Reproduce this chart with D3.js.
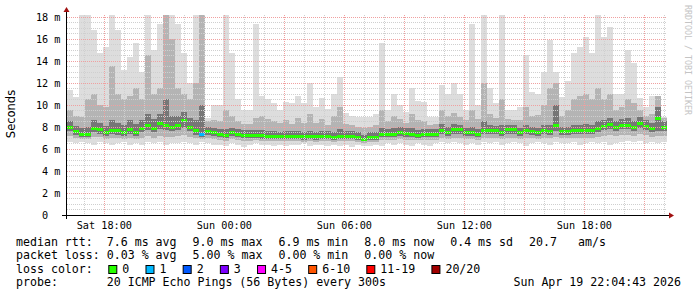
<!DOCTYPE html>
<html>
<head>
<meta charset="utf-8">
<script src="https://cdn.jsdelivr.net/npm/d3@7"></script>
<style>
    html, body { margin: 0; padding: 0; background: #ffffff; }
    svg { display: block; }
    text { font-family: "DejaVu Sans Mono", monospace; white-space: pre; }
</style>
</head>
<body>
<div id="chart"></div>
<script>
// Ping values per 18 minute bin, in milliseconds (100 bins = 30 hours)
const medianRtt = [
    8.0, 7.6, 7.4, 7.4, 7.9, 7.8, 7.5, 7.7, 7.7, 7.5,
    7.8, 7.5, 7.9, 8.2, 7.9, 8.4, 8.2, 8.0, 8.2, 8.6,
    8.0, 7.7, 7.4, 7.6, 7.5, 7.4, 7.3, 7.5, 7.4, 7.3,
    7.3, 7.25, 7.25, 7.2, 7.2, 7.15, 7.2, 7.2, 7.15, 7.15,
    7.15, 7.15, 7.15, 7.2, 7.1, 7.2, 7.2, 7.2, 7.1, 6.9,
    7.1, 7.1, 7.4, 7.4, 7.4, 7.55, 7.45, 7.4, 7.3, 7.4,
    7.4, 7.4, 7.75, 7.5, 7.8, 7.8, 7.5, 7.5, 7.4, 7.7,
    7.7, 7.7, 7.5, 7.8, 7.8, 7.5, 7.7, 7.6, 7.5, 7.7,
    7.6, 8.2, 7.6, 7.6, 7.7, 7.7, 7.7, 7.7, 7.9, 8.1,
    8.3, 8.0, 8.2, 8.2, 8.0, 8.4, 8.1, 7.9, 8.8, 8.0
];
const minRtt = [
    6.6, 6.5, 6.6, 6.5, 6.4, 6.6, 6.5, 6.4, 6.5, 6.6,
    6.4, 6.5, 6.4, 6.6, 6.5, 6.6, 6.4, 6.5, 6.5, 6.6,
    6.5, 6.4, 6.6, 6.5, 6.4, 6.4, 6.3, 6.5, 6.4, 6.2,
    6.4, 6.5, 6.4, 6.4, 6.3, 6.4, 6.3, 6.4, 6.4, 6.5,
    6.3, 6.4, 6.4, 6.3, 6.4, 6.3, 6.4, 6.2, 6.4, 6.3,
    6.3, 6.4, 6.3, 6.5, 6.4, 6.5, 6.4, 6.3, 6.5, 6.4,
    6.3, 6.5, 6.6, 6.5, 6.6, 6.5, 6.4, 6.5, 6.4, 6.6,
    6.5, 6.6, 6.4, 6.5, 6.6, 6.5, 6.3, 6.5, 6.6, 6.5,
    6.4, 6.6, 6.5, 6.5, 6.6, 6.4, 6.5, 6.6, 6.5, 6.6,
    6.4, 6.5, 6.6, 6.7, 6.6, 6.7, 6.5, 6.6, 6.5, 6.6
];
const p10Rtt = [
    7.2, 7.0, 6.9, 6.9, 7.1, 7.1, 6.9, 7.0, 7.0, 6.9,
    7.0, 6.9, 7.0, 7.2, 7.0, 7.2, 7.1, 7.1, 7.2, 7.3,
    7.1, 7.0, 6.9, 7.0, 6.9, 6.8, 6.7, 6.9, 6.8, 6.7,
    6.7, 6.8, 6.7, 6.7, 6.7, 6.7, 6.7, 6.7, 6.7, 6.6,
    6.7, 6.6, 6.7, 6.7, 6.6, 6.7, 6.7, 6.7, 6.6, 6.5,
    6.6, 6.6, 6.8, 6.8, 6.8, 6.9, 6.8, 6.8, 6.8, 6.8,
    6.8, 6.8, 7.0, 6.9, 7.0, 7.0, 6.9, 6.9, 6.8, 7.0,
    7.0, 7.0, 6.9, 7.0, 7.0, 6.9, 7.0, 7.0, 6.9, 7.0,
    7.0, 7.1, 7.0, 7.0, 7.0, 7.0, 7.0, 7.0, 7.1, 7.2,
    7.3, 7.2, 7.3, 7.3, 7.2, 7.4, 7.3, 7.1, 7.2, 7.2
];
const p25Rtt = [
    7.6, 7.3, 7.1, 7.1, 7.5, 7.4, 7.2, 7.4, 7.3, 7.2,
    7.4, 7.2, 7.5, 7.7, 7.5, 7.8, 7.7, 7.6, 7.7, 7.9,
    7.6, 7.3, 7.1, 7.3, 7.2, 7.1, 7.0, 7.2, 7.1, 7.0,
    7.0, 7.0, 6.95, 6.9, 6.9, 6.9, 6.9, 6.9, 6.9, 6.85,
    6.9, 6.85, 6.9, 6.9, 6.8, 6.9, 6.9, 6.9, 6.8, 6.7,
    6.8, 6.8, 7.1, 7.1, 7.1, 7.2, 7.1, 7.1, 7.0, 7.1,
    7.1, 7.1, 7.4, 7.2, 7.4, 7.4, 7.2, 7.2, 7.1, 7.4,
    7.4, 7.4, 7.2, 7.4, 7.4, 7.2, 7.4, 7.3, 7.2, 7.4,
    7.3, 7.6, 7.3, 7.3, 7.4, 7.4, 7.4, 7.4, 7.5, 7.7,
    7.8, 7.6, 7.8, 7.8, 7.6, 7.9, 7.7, 7.5, 7.6, 7.6
];
const p75Rtt = [
    8.5, 8.1, 7.9, 8.0, 8.6, 8.4, 8.1, 8.6, 8.4, 8.2,
    8.6, 8.3, 8.6, 9.2, 8.7, 9.2, 10.5, 9.0, 9.0, 9.4,
    8.8, 8.6, 10.0, 8.0, 7.9, 7.8, 7.8, 7.9, 7.8, 7.7,
    7.7, 7.7, 7.7, 7.6, 7.6, 7.5, 7.6, 7.6, 7.6, 7.5,
    7.6, 7.5, 7.6, 7.6, 7.5, 7.8, 7.6, 7.6, 7.5, 7.3,
    7.5, 7.5, 7.9, 7.8, 7.9, 8.0, 7.9, 7.9, 7.7, 7.8,
    7.8, 7.8, 8.3, 8.0, 8.3, 8.2, 7.9, 8.0, 7.8, 8.5,
    8.2, 8.1, 8.2, 8.2, 8.2, 7.9, 8.2, 8.0, 7.9, 8.2,
    8.2, 10.0, 8.0, 8.0, 8.2, 8.2, 8.3, 8.2, 8.5, 8.6,
    8.8, 8.5, 8.7, 8.8, 8.5, 8.9, 8.6, 8.4, 9.8, 8.5
];
const p90Rtt = [
    9.5, 9.0, 8.9, 10.5, 11.0, 10.0, 9.8, 13.5, 11.0, 10.5,
    10.8, 11.5, 10.5, 14.5, 11.0, 11.5, 18.2, 16.0, 11.5, 11.0,
    10.5, 12.0, 18.2, 8.5, 8.6, 8.5, 9.5, 9.0, 8.5, 8.3,
    8.3, 8.8, 9.0, 8.7, 8.5, 8.4, 8.6, 8.3, 8.8, 8.4,
    9.2, 8.4, 8.7, 8.2, 9.0, 9.8, 8.3, 8.2, 8.0, 7.9,
    8.0, 8.2, 9.5, 8.5, 9.0, 8.7, 8.4, 9.2, 8.6, 8.5,
    8.2, 8.3, 9.5, 9.0, 9.3, 8.9, 8.6, 9.5, 8.7, 12.0,
    9.2, 8.8, 10.5, 8.7, 8.6, 8.6, 9.8, 9.0, 9.1, 10.0,
    11.5, 12.0, 9.0, 9.5, 10.5, 10.8, 11.0, 10.5, 11.5, 10.5,
    11.0, 9.5, 9.8, 10.5, 10.2, 9.5, 9.0, 9.2, 10.8, 8.8
];
const maxRtt = [
    11.4, 10.7, 18.2, 18.2, 16.8, 14.7, 15.3, 18.2, 16.8, 13.2,
    14.4, 15.6, 13.0, 18.2, 15.0, 17.4, 18.2, 18.2, 17.4, 14.7,
    12.0, 18.2, 18.2, 8.8, 10.0, 10.0, 18.2, 14.7, 10.5, 9.5,
    9.5, 17.4, 10.8, 10.5, 10.2, 9.5, 10.3, 10.2, 10.8, 10.2,
    12.0, 9.8, 10.6, 9.6, 11.0, 12.5, 9.3, 9.0, 8.9, 8.9,
    8.9, 9.2, 15.6, 9.5, 11.0, 10.0, 9.4, 11.5, 10.4, 10.3,
    8.9, 8.9, 11.8, 11.0, 12.0, 11.0, 9.5, 17.4, 10.0, 18.2,
    11.5, 10.2, 18.2, 9.5, 9.5, 9.8, 14.5, 11.2, 11.0, 13.0,
    15.9, 13.0, 10.7, 12.2, 14.7, 15.3, 16.2, 14.7, 18.2, 16.2,
    17.1, 11.0, 11.0, 15.0, 13.8, 10.6, 9.8, 10.8, 10.5, 8.9
];
// Lost pings (out of 20) per bin
const lossCount = [
    0, 0, 0, 0, 0, 0, 0, 0, 0, 0,
    0, 0, 0, 0, 0, 0, 0, 0, 0, 0,
    0, 0, 1, 0, 0, 0, 0, 0, 0, 0,
    0, 0, 0, 0, 0, 0, 0, 0, 0, 0,
    0, 0, 0, 0, 0, 0, 0, 0, 0, 0,
    0, 0, 0, 0, 0, 0, 0, 0, 0, 0,
    0, 0, 0, 0, 0, 0, 0, 0, 0, 0,
    0, 0, 0, 0, 0, 0, 0, 0, 0, 0,
    0, 0, 0, 0, 0, 0, 0, 0, 0, 0,
    0, 0, 0, 0, 0, 0, 0, 0, 0, 0
];

// Legend values
const medianStats = [7.6, 9.0, 6.9, 8.0, 0.4];
const amPerSec = 20.7;
const lossStats = [0.03, 5.00, 0.00, 0.00];
const lossLabels = ['0', '1', '2', '3', '4-5', '6-10', '11-19', '20/20'];
const lossColors = ['#26ff00', '#00b8ff', '#0059ff', '#7e00ff', '#ff00ff', '#ff5500', '#ff0000', '#a10000'];
const lossThresholds = [1, 2, 3, 4, 6, 11, 20];
const yTicks = [0, 2, 4, 6, 8, 10, 12, 14, 16, 18];
const yMax = 18.18;

const startTime = new Date(2026, 3, 18, 16, 8);
const endTime = new Date(2026, 3, 19, 22, 8);
const binMinutes = 18;
const probeText = '20 ICMP Echo Pings (56 Bytes) every 300s';
const stampText = 'Sun Apr 19 22:04:43 2026';

// Размеры
const width = 697;
const height = 297;
const plotLeft = 67;
const plotRight = 667;
const plotTop = 15;
const plotBottom = 215;

const svg = d3.select('#chart').append('svg')
    .attr('width', width)
    .attr('height', height);

svg.append('rect').attr('width', width).attr('height', height).attr('fill', '#ffffff');

const xScale = d3.scaleTime().domain([startTime, endTime]).range([plotLeft, plotRight]);
const yScale = d3.scaleLinear().domain([0, yMax]).range([plotBottom, plotTop]);
const lossScale = d3.scaleThreshold().domain(lossThresholds).range(lossColors);

const rows = medianRtt.map((m, i) => ({
    t: d3.timeMinute.offset(startTime, i * binMinutes),
    t2: d3.timeMinute.offset(startTime, (i + 1) * binMinutes),
    median: m,
    min: minRtt[i], p10: p10Rtt[i], p25: p25Rtt[i],
    p75: p75Rtt[i], p90: p90Rtt[i], max: maxRtt[i],
    loss: lossCount[i]
}));
// closing point so the last step has its width
const stepRows = rows.concat([Object.assign({}, rows[rows.length - 1], {t: endTime})]);

svg.append('clipPath').attr('id', 'plot-clip')
    .append('rect')
    .attr('x', plotLeft).attr('y', plotTop)
    .attr('width', plotRight - plotLeft).attr('height', plotBottom - plotTop);

const plot = svg.append('g').attr('clip-path', 'url(#plot-clip)');

// Smoke layers
const layers = [
    {lo: 'min', hi: 'max', color: '#dddddd'},
    {lo: 'p10', hi: 'p90', color: '#b4b4b4'},
    {lo: 'p25', hi: 'p75', color: '#767676'}
];
layers.forEach(l => {
    const area = d3.area()
        .curve(d3.curveStepAfter)
        .x(d => xScale(d.t))
        .y0(d => yScale(d[l.lo]))
        .y1(d => yScale(d[l.hi]));
    plot.append('path')
        .datum(stepRows)
        .attr('d', area)
        .attr('fill', l.color)
        .attr('shape-rendering', 'crispEdges');
});

// Grid
const crisp = v => Math.round(v) + 0.5;
const minorY = d3.range(0.5, yMax, 0.5).filter(v => v % 2 !== 0);
svg.append('g').selectAll('line')
    .data(minorY)
    .enter().append('line')
    .attr('x1', plotLeft).attr('x2', plotRight)
    .attr('y1', d => crisp(yScale(d))).attr('y2', d => crisp(yScale(d)))
    .attr('stroke', '#cfcfcf').attr('stroke-dasharray', '1,1');

const hours = d3.timeHour.range(startTime, endTime);
svg.append('g').selectAll('line')
    .data(hours.filter(h => h.getHours() % 3 !== 0))
    .enter().append('line')
    .attr('x1', d => crisp(xScale(d))).attr('x2', d => crisp(xScale(d)))
    .attr('y1', plotTop).attr('y2', plotBottom)
    .attr('stroke', '#cfcfcf').attr('stroke-dasharray', '1,1');

svg.append('g').selectAll('line')
    .data(yTicks.filter(v => v > 0))
    .enter().append('line')
    .attr('x1', plotLeft).attr('x2', plotRight)
    .attr('y1', d => crisp(yScale(d))).attr('y2', d => crisp(yScale(d)))
    .attr('stroke', '#f0a0a0').attr('stroke-dasharray', '1,1');

svg.append('g').selectAll('line')
    .data(hours.filter(h => h.getHours() % 3 === 0))
    .enter().append('line')
    .attr('x1', d => crisp(xScale(d))).attr('x2', d => crisp(xScale(d)))
    .attr('y1', plotTop).attr('y2', plotBottom)
    .attr('stroke', '#f0a0a0').attr('stroke-dasharray', '1,1');

// Median, coloured by loss
plot.selectAll('.median')
    .data(rows)
    .enter().append('rect')
    .attr('class', 'median')
    .attr('x', d => xScale(d.t))
    .attr('width', d => xScale(d.t2) - xScale(d.t))
    .attr('y', d => Math.round(yScale(d.median)) - 1.5)
    .attr('height', 3)
    .attr('fill', d => lossScale(d.loss))
    .attr('shape-rendering', 'crispEdges');

// Axes
svg.append('line')
    .attr('x1', 62).attr('x2', 670)
    .attr('y1', plotBottom + 0.5).attr('y2', plotBottom + 0.5)
    .attr('stroke', '#000000');
svg.append('line')
    .attr('x1', plotLeft - 0.5).attr('x2', plotLeft - 0.5)
    .attr('y1', plotBottom + 4).attr('y2', 11)
    .attr('stroke', '#000000');
svg.append('path')
    .attr('d', `M674,${plotBottom + 0.5}L669,${plotBottom - 2.5}L669,${plotBottom + 3.5}Z`)
    .attr('fill', '#a01010');
svg.append('path')
    .attr('d', `M${plotLeft - 0.5},7L${plotLeft - 3.5},12L${plotLeft + 2.5},12Z`)
    .attr('fill', '#a01010');

// Y labels
svg.append('g').selectAll('text')
    .data(yTicks)
    .enter().append('text')
    .attr('x', 60.5)
    .attr('y', d => yScale(d))
    .attr('dy', '0.36em')
    .attr('text-anchor', 'end')
    .style('font-size', '10.2px')
    .attr('fill', '#000')
    .text(d => d === 0 ? '0  ' : d + ' m');

// X labels
const timeFmt = d3.timeFormat('%a %H:%M');
svg.append('g').selectAll('text')
    .data(hours.filter(h => h.getHours() % 6 === 0))
    .enter().append('text')
    .attr('x', d => xScale(d))
    .attr('y', 228.5)
    .attr('text-anchor', 'middle')
    .style('font-size', '10.2px')
    .attr('fill', '#000')
    .text(d => timeFmt(d));

svg.append('text')
    .attr('transform', 'translate(15,114) rotate(-90)')
    .attr('text-anchor', 'middle')
    .style('font-family', '"DejaVu Sans", sans-serif')
    .style('font-size', '11.5px')
    .attr('fill', '#000')
    .text('Seconds');

svg.append('text')
    .attr('transform', 'translate(684.5,5) rotate(90)')
    .style('font-size', '8.3px')
    .attr('fill', '#c4c4c4')
    .text('RRDTOOL / TOBI OETIKER');

// Legend
const legendSize = '11.6px';
function legendLine(y, parts) {
    const t = svg.append('text')
        .attr('x', 16).attr('y', y)
        .style('font-size', legendSize)
        .attr('fill', '#000');
    parts.forEach((p, i) => {
        t.append('tspan').attr('dx', i === 0 ? 0 : 2.1).text(p);
    });
}
const f1 = d3.format('.1f');
const f2 = d3.format('.2f');
legendLine(245.8, [
    'median rtt:  ' + f1(medianStats[0]) + ' ms avg  ',
    f1(medianStats[1]) + ' ms max  ',
    f1(medianStats[2]) + ' ms min  ',
    f1(medianStats[3]) + ' ms now  ',
    f1(medianStats[4]) + ' ms sd  ',
    f1(amPerSec) + '   am/s'
]);
legendLine(259.2, [
    'packet loss: ' + f2(lossStats[0]) + ' % avg  ',
    f2(lossStats[1]) + ' % max  ',
    f2(lossStats[2]) + ' % min  ',
    f2(lossStats[3]) + ' % now'
]);
legendLine(272.6, ['loss color:']);
legendLine(286, ['probe:       ' + probeText]);

svg.append('text')
    .attr('x', 681).attr('y', 286)
    .attr('text-anchor', 'end')
    .style('font-size', legendSize)
    .attr('fill', '#000')
    .text(stampText);

let lx = 108.3;
lossLabels.forEach((lab, i) => {
    svg.append('rect')
        .attr('x', lx + 0.5).attr('y', 265.5)
        .attr('width', 8).attr('height', 8)
        .attr('fill', lossColors[i])
        .attr('stroke', '#000');
    const t = svg.append('text')
        .attr('x', lx + 14).attr('y', 272.6)
        .style('font-size', legendSize)
        .attr('fill', '#000')
        .text(lab);
    lx += 14 + t.node().getComputedTextLength() + 16.2;
});
</script>
</body>
</html>
